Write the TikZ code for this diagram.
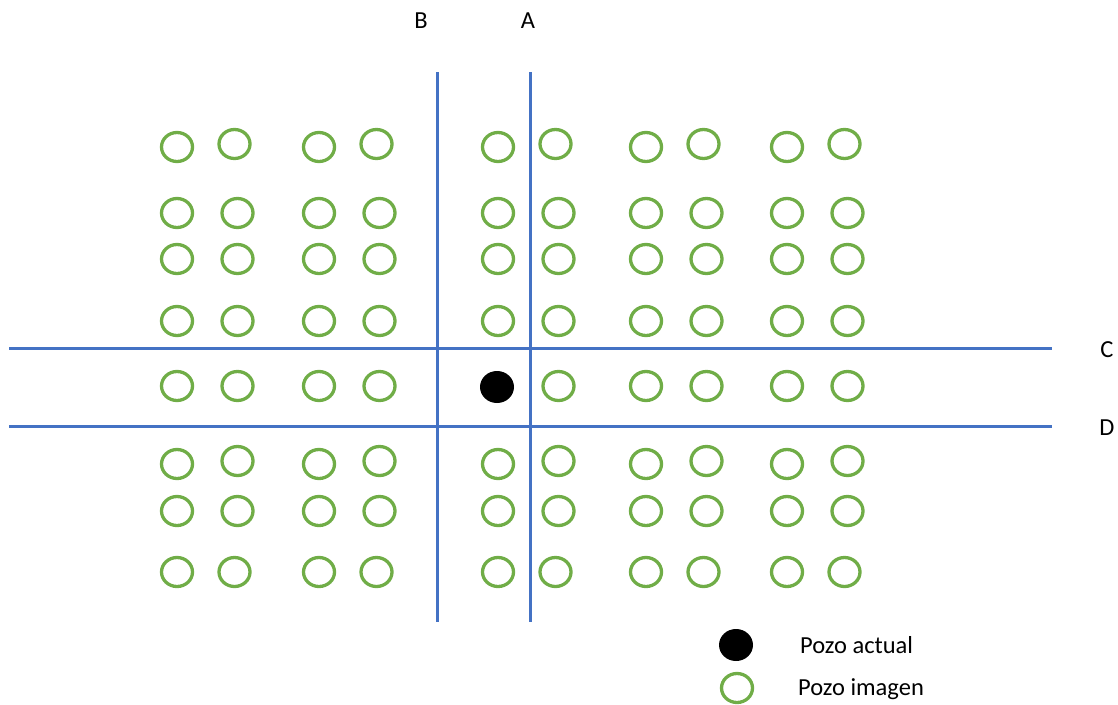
\documentclass[tikz,border=0pt]{standalone}
\usepackage{fontspec}
\setmainfont{Carlito}
\usetikzlibrary{shapes.geometric}
\definecolor{gridblue}{HTML}{4472C4}
\definecolor{wellgreen}{HTML}{70AD47}
\begin{document}
\begin{tikzpicture}[x=1pt,y=-1pt,
  well/.style={ellipse, draw=wellgreen, line width=3.3pt, minimum width=31pt, minimum height=29pt, inner sep=0pt},
  current/.style={ellipse, fill=black, minimum width=34pt, minimum height=32pt, inner sep=0pt},
  boundary/.style={draw=gridblue, line width=3pt},
  lbl/.style={font=\fontsize{24.5}{28}\selectfont, inner sep=0pt}]
\useasboundingbox (0,0) rectangle (1118,704);

% boundary end points
\coordinate (Btop) at (437,72);  \coordinate (Bbot) at (437,622);
\coordinate (Atop) at (530,72);  \coordinate (Abot) at (530,622);
\coordinate (Cl) at (9,348);     \coordinate (Cr) at (1052,348);
\coordinate (Dl) at (9,426);     \coordinate (Dr) at (1052,426);

\draw[boundary] (Btop) -- (Bbot);
\draw[boundary] (Atop) -- (Abot);
\draw[boundary] (Cl) -- (Cr);
\draw[boundary] (Dl) -- (Dr);

% boundary labels
\node[lbl, anchor=base] (lblB) at (421,28) {B};
\node[lbl, anchor=base] (lblA) at (528,28) {A};
\node[lbl, anchor=base] (lblC) at (1107,357) {C};
\node[lbl, anchor=base] (lblD) at (1107,435) {D};

% image wells: rows of paired columns
\foreach \r/\y/\dx/\dy in {1/147/-3/-3, 2/213/0/0, 3/259/0/0, 4/321/0/0,
                           5/386/0/0, 6/464/0/-3, 7/511/0/0, 8/572/-3/0}{
  \foreach \c/\x in {1/177, 2/319, 3/498, 4/646, 5/787}{
    \pgfmathtruncatemacro{\isactual}{and(\r==5,\c==3)}
    \ifnum\isactual=0
      \node[well] (wl-\r-\c) at (\x,\y) {};
    \fi
    \node[well] (wr-\r-\c) at (\x+60.5+\dx,\y+\dy) {};
  }
}

% actual well
\node[current] (actual) at (497,387) {};

% legend
\node[current] (legcur) at (736,645) {};
\node[well] (legimg) at (737,688) {};
\node[lbl, anchor=base west] (txtcur) at (800,653) {Pozo actual};
\node[lbl, anchor=base west] (txtimg) at (798,695) {Pozo imagen};
\end{tikzpicture}
\end{document}
